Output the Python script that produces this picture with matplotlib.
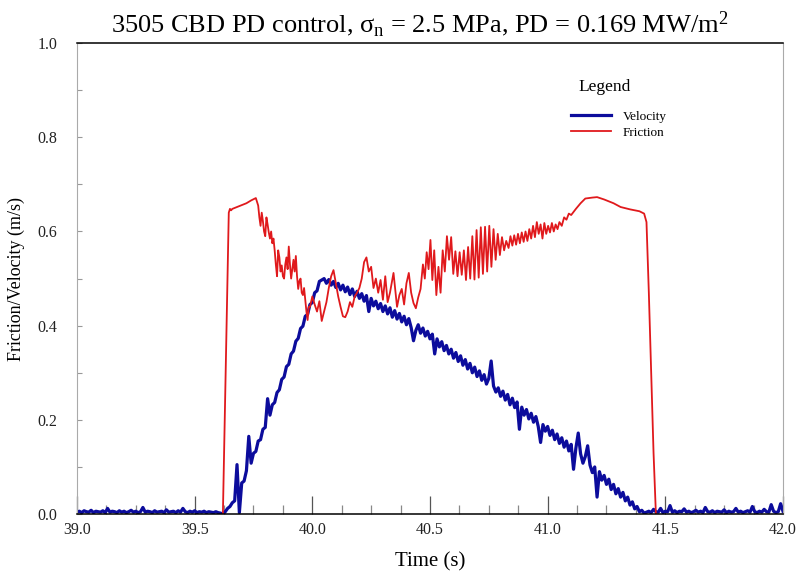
import numpy as np
import matplotlib
matplotlib.use("Agg")
import matplotlib.pyplot as plt
from matplotlib.ticker import MultipleLocator, FormatStrFormatter

plt.rcParams['font.family'] = ['Liberation Serif', 'DejaVu Serif']
plt.rcParams['mathtext.fontset'] = 'custom'
plt.rcParams['mathtext.rm'] = 'Liberation Serif'
plt.rcParams['mathtext.it'] = 'Liberation Serif:italic'
plt.rcParams['mathtext.default'] = 'regular'

# velocity, sampled every 0.01 s starting at 39.00 s
vel_before = [0.004, 0.006, 0.003, 0.007, 0.005, 0.004, 0.008, 0.003, 0.006, 0.005,
              0.004, 0.007, 0.003, 0.012, 0.004, 0.006, 0.005, 0.003, 0.007, 0.004,
              0.006, 0.003, 0.005, 0.008, 0.004, 0.006, 0.003, 0.005, 0.014, 0.004,
              0.006, 0.005, 0.003, 0.007, 0.004, 0.005, 0.006, 0.003, 0.009, 0.004,
              0.005, 0.006, 0.003, 0.007, 0.004, 0.012, 0.005, 0.003, 0.006, 0.004,
              0.007, 0.003, 0.005, 0.004, 0.006, 0.003, 0.005, 0.004, 0.003, 0.005,
              0.003, 0.002]
vel_rise = [0.000, 0.005, 0.012, 0.016, 0.024, 0.028, 0.105, 0.003, 0.066, 0.070,
            0.092, 0.165, 0.108, 0.129, 0.133, 0.155, 0.158, 0.180, 0.184, 0.245,
            0.210, 0.232, 0.237, 0.258, 0.264, 0.286, 0.291, 0.313, 0.318, 0.340,
            0.346, 0.367, 0.373, 0.394, 0.399, 0.420, 0.424, 0.445, 0.449, 0.470,
            0.474, 0.494, 0.497]
vel_fall = [0.500, 0.490, 0.498, 0.486, 0.494, 0.481, 0.490, 0.476, 0.486, 0.472,
            0.482, 0.466, 0.478, 0.462, 0.473, 0.458, 0.468, 0.452, 0.464, 0.430,
            0.458, 0.442, 0.452, 0.436, 0.447, 0.430, 0.442, 0.425, 0.438, 0.418,
            0.432, 0.414, 0.426, 0.408, 0.420, 0.402, 0.415, 0.396, 0.368, 0.390,
            0.402, 0.384, 0.395, 0.378, 0.388, 0.372, 0.382, 0.340, 0.372, 0.355,
            0.366, 0.347, 0.358, 0.340, 0.350, 0.331, 0.343, 0.324, 0.336, 0.316,
            0.328, 0.308, 0.320, 0.300, 0.312, 0.292, 0.304, 0.284, 0.296, 0.276,
            0.288, 0.325, 0.272, 0.259, 0.268, 0.250, 0.261, 0.242, 0.254, 0.232,
            0.246, 0.226, 0.238, 0.180, 0.227, 0.210, 0.222, 0.202, 0.214, 0.195,
            0.207, 0.186, 0.152, 0.190, 0.176, 0.186, 0.167, 0.178, 0.158, 0.170,
            0.150, 0.162, 0.142, 0.155, 0.134, 0.148, 0.095, 0.140, 0.172, 0.128,
            0.108, 0.122, 0.145, 0.104, 0.088, 0.100, 0.036, 0.090, 0.072, 0.082,
            0.063, 0.074, 0.052, 0.063, 0.043, 0.054, 0.036, 0.046, 0.028, 0.036,
            0.019, 0.026, 0.011, 0.016, 0.005, 0.008, 0.002]
vel_after = [0.004, 0.006, 0.003, 0.010, 0.005, 0.004, 0.012, 0.003, 0.006, 0.005,
             0.018, 0.004, 0.007, 0.003, 0.006, 0.005, 0.011, 0.004, 0.006, 0.003,
             0.005, 0.008, 0.004, 0.006, 0.003, 0.014, 0.005, 0.004, 0.007, 0.003,
             0.006, 0.005, 0.004, 0.009, 0.003, 0.006, 0.004, 0.005, 0.012, 0.004,
             0.006, 0.003, 0.005, 0.007, 0.004, 0.016, 0.005, 0.003, 0.006, 0.004,
             0.010, 0.005, 0.004, 0.020, 0.006, 0.003, 0.005, 0.022, 0.006]
velocity = vel_before + vel_rise + vel_fall + vel_after
vel_time = 39.0 + 0.01 * np.arange(len(velocity))

# friction, read point by point, in four stretches
fric_t1 = [39.62, 39.645, 39.65, 39.655, 39.66, 39.68, 39.70, 39.72, 39.74, 39.76,
           39.77, 39.775, 39.78, 39.785, 39.79, 39.795, 39.80, 39.805, 39.81, 39.815,
           39.82, 39.825, 39.83, 39.835, 39.84, 39.845, 39.85, 39.855, 39.86, 39.865,
           39.87, 39.875, 39.88, 39.885, 39.89, 39.895, 39.90, 39.905, 39.91, 39.915,
           39.92, 39.925, 39.93, 39.935, 39.94, 39.945, 39.95, 39.955, 39.96, 39.965,
           39.97, 39.975, 39.98, 39.985, 39.99, 40.00]
fric_1 = [0.000, 0.640, 0.648, 0.645, 0.648, 0.652, 0.656, 0.660, 0.666, 0.671,
          0.655, 0.630, 0.612, 0.640, 0.622, 0.600, 0.590, 0.630, 0.615, 0.598,
          0.585, 0.600, 0.575, 0.585, 0.560, 0.530, 0.505, 0.560, 0.545, 0.515,
          0.528, 0.505, 0.500, 0.530, 0.545, 0.520, 0.568, 0.530, 0.500, 0.520,
          0.540, 0.515, 0.548, 0.505, 0.478, 0.495, 0.500, 0.470, 0.465, 0.480,
          0.455, 0.430, 0.412, 0.440, 0.440, 0.462]
fric_t2 = [40.01, 40.02, 40.03, 40.04, 40.05, 40.06, 40.07, 40.08, 40.09, 40.10,
           40.11, 40.12, 40.13, 40.14, 40.15, 40.16, 40.17, 40.18, 40.19, 40.20,
           40.21, 40.22, 40.23, 40.24, 40.25, 40.26, 40.27, 40.28, 40.29, 40.30,
           40.31, 40.32, 40.33, 40.345, 40.36, 40.37, 40.38, 40.39, 40.40, 40.41,
           40.42, 40.43, 40.44, 40.45]
fric_2 = [0.445, 0.430, 0.452, 0.410, 0.430, 0.450, 0.480, 0.505, 0.518, 0.490,
          0.462, 0.440, 0.420, 0.418, 0.430, 0.450, 0.440, 0.462, 0.470, 0.480,
          0.500, 0.535, 0.545, 0.515, 0.525, 0.480, 0.500, 0.470, 0.497, 0.455,
          0.505, 0.450, 0.470, 0.512, 0.440, 0.465, 0.478, 0.445, 0.490, 0.512,
          0.470, 0.448, 0.437, 0.460]
fric_t3 = [40.46, 40.47, 40.478, 40.486, 40.494, 40.502, 40.51, 40.518, 40.527, 40.536,
           40.545, 40.554, 40.563, 40.572, 40.581, 40.59, 40.599, 40.608, 40.617, 40.626,
           40.635, 40.644, 40.653, 40.662, 40.671, 40.68, 40.689, 40.698, 40.707, 40.716,
           40.725, 40.734, 40.743, 40.752, 40.761, 40.77, 40.779, 40.788, 40.797, 40.806,
           40.815, 40.824]
fric_3 = [0.478, 0.530, 0.500, 0.556, 0.520, 0.582, 0.497, 0.560, 0.465, 0.525,
          0.470, 0.560, 0.515, 0.590, 0.540, 0.588, 0.510, 0.558, 0.505, 0.556,
          0.508, 0.560, 0.497, 0.567, 0.500, 0.590, 0.498, 0.603, 0.502, 0.609,
          0.510, 0.610, 0.515, 0.612, 0.525, 0.605, 0.540, 0.595, 0.550, 0.588,
          0.560, 0.580]
fric_t4 = [40.834, 40.842, 40.85, 40.858, 40.866, 40.874, 40.882, 40.89, 40.898, 40.906,
           40.914, 40.922, 40.93, 40.938, 40.946, 40.954, 40.962, 40.97, 40.978, 40.986,
           40.994, 41.002, 41.01, 41.018, 41.026, 41.034, 41.042, 41.05, 41.06, 41.07,
           41.08, 41.09, 41.10, 41.12, 41.14, 41.16, 41.19, 41.21, 41.24, 41.28,
           41.31, 41.35, 41.39, 41.41, 41.42, 41.43, 41.44, 41.45, 41.46]
fric_4 = [0.565, 0.590, 0.570, 0.592, 0.572, 0.595, 0.575, 0.598, 0.578, 0.600,
          0.580, 0.605, 0.585, 0.612, 0.588, 0.620, 0.595, 0.615, 0.585, 0.618,
          0.595, 0.612, 0.598, 0.618, 0.600, 0.615, 0.605, 0.620, 0.612, 0.630,
          0.625, 0.638, 0.635, 0.648, 0.660, 0.670, 0.672, 0.673, 0.668, 0.660,
          0.652, 0.647, 0.643, 0.638, 0.620, 0.470, 0.300, 0.130, 0.000]
fric_time = fric_t1 + fric_t2 + fric_t3 + fric_t4
friction = fric_1 + fric_2 + fric_3 + fric_4

fig = plt.figure(figsize=(7.97, 5.75), dpi=100)
ax = fig.add_axes([0.0966, 0.106, 0.8858, 0.819])

ax.plot(vel_time, velocity, color='#0c0c9c', lw=2.3, label='Velocity')
ax.plot(fric_time, friction, color='#e0191c', lw=1.3, label='Friction')

ax.set_xlim(39.0, 42.0)
ax.set_ylim(0.0, 1.0)
ax.xaxis.set_major_locator(MultipleLocator(0.5))
ax.xaxis.set_minor_locator(MultipleLocator(0.125))
ax.yaxis.set_major_locator(MultipleLocator(0.2))
ax.yaxis.set_minor_locator(MultipleLocator(0.1))
ax.xaxis.set_major_formatter(FormatStrFormatter('%.1f'))
ax.yaxis.set_major_formatter(FormatStrFormatter('%.1f'))

ax.tick_params(axis='x', which='major', direction='in', length=13, width=0.9,
               color='#555555', labelsize=11.5, labelcolor='#222222', pad=6)
ax.tick_params(axis='x', which='minor', direction='in', length=6.5, width=0.9,
               color='#888888')
ax.tick_params(axis='y', which='both', direction='in', length=3.5, width=0.8,
               color='#999999', labelsize=11.5, labelcolor='#222222', pad=14)

for s in ['left', 'right']:
    ax.spines[s].set_color('#aaaaaa')
    ax.spines[s].set_linewidth(0.8)
for s in ['top', 'bottom']:
    ax.spines[s].set_color('black')
    ax.spines[s].set_linewidth(1.1)

ax.set_xlabel('Time (s)', fontsize=15, labelpad=10)
ax.set_ylabel('Friction/Velocity (m/s)', fontsize=13, labelpad=9)
ax.set_title(r'3505 CBD PD control, $\sigma_{n}$ = 2.5 MPa, PD = 0.169 MW/m$^{2}$',
             fontsize=19, pad=8, x=0.486)

# legend: title as a separate text, entries without frame
ax.text(0.748, 0.907, 'Legend', transform=ax.transAxes, fontsize=12.5,
        ha='center', va='center')
ax.legend(loc='upper left', bbox_to_anchor=(0.70, 0.857), frameon=False,
          fontsize=9.5, handlelength=3.0, labelspacing=0.3, handletextpad=0.9,
          borderpad=0, borderaxespad=0)

fig.savefig('out.png', dpi=100)
